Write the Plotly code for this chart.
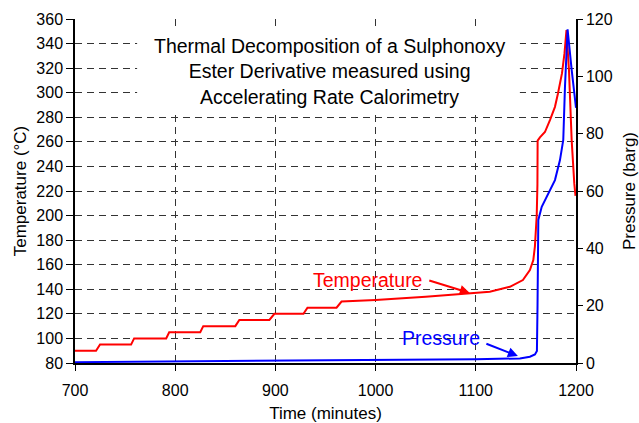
import plotly.graph_objects as go

# Temperature (°C) vs time (minutes)
temp_time = [700, 721, 725, 756, 759, 791, 794, 825, 828, 860, 864, 894, 899, 928, 932,
             961, 966, 1000, 1050, 1097, 1114, 1134, 1147, 1154, 1157.4, 1159, 1160.8,
             1161.5, 1161.7, 1164, 1169, 1174, 1179, 1182, 1186, 1188.5, 1190, 1190.5,
             1193, 1194.7, 1195.7, 1198.3, 1199.5]
temp_vals = [90, 90, 95, 95, 100, 100, 105, 105, 110, 110, 115, 115, 120, 120, 125,
             125, 130, 131.3, 134, 136.7, 138, 142, 147.5, 155.7, 163.8, 175, 200,
             225, 261, 263.6, 268, 277.7, 288.5, 299.4, 315.7, 332, 349.6, 351,
             318, 277.7, 261, 226, 216]

# Pressure (barg) vs time (minutes)
pres_time = [700, 800, 900, 1000, 1100, 1144, 1154, 1159, 1161, 1161.6, 1161.8, 1162.4,
             1165.8, 1172.4, 1179, 1184, 1187.3, 1189, 1191.6, 1195.7, 1199, 1200]
pres_vals = [0.3, 0.5, 0.7, 0.9, 1.3, 1.6, 2.2, 3.0, 4.2, 20, 46.4, 49.9,
             54.5, 59.2, 63.8, 70.8, 77.8, 96.4, 116.4, 102.2, 90.6, 89]

title_text = ("Thermal Decomposition of a Sulphonoxy<br>Ester Derivative measured using"
              "<br>Accelerating Rate Calorimetry")

FONT = "Liberation Sans, Arial, sans-serif"

fig = go.Figure()
fig.add_trace(go.Scatter(x=temp_time, y=temp_vals, mode="lines",
                         line=dict(color="#FF0000", width=2), yaxis="y",
                         showlegend=False, hoverinfo="skip"))
fig.add_trace(go.Scatter(x=pres_time, y=pres_vals, mode="lines",
                         line=dict(color="#0000FF", width=2), yaxis="y2",
                         showlegend=False, hoverinfo="skip"))

grid = dict(showgrid=True, gridcolor="#333333", gridwidth=1, griddash="7px,5px")

fig.update_layout(
    width=639, height=423,
    margin=dict(l=75, r=63, t=19, b=60),
    paper_bgcolor="white", plot_bgcolor="white",
    font=dict(family=FONT, size=16, color="black"),
    xaxis=dict(range=[700, 1200], tick0=700, dtick=100, showline=True, linecolor="black",
               linewidth=1.5, ticks="outside", ticklen=6, tickcolor="black",
               ticklabelstandoff=6,
               title=dict(text="Time (minutes)", font=dict(size=17), standoff=11),
               zeroline=False, automargin=False, **grid),
    yaxis=dict(range=[80, 360], tick0=80, dtick=20, showline=True, linecolor="black",
               linewidth=1.5, ticks="outside", ticklen=7, tickcolor="black",
               title=dict(text="Temperature (°C)", font=dict(size=17), standoff=5),
               zeroline=False, automargin=False, **grid),
    yaxis2=dict(range=[0, 120], tick0=0, dtick=20, overlaying="y", side="right",
                showline=True, linecolor="black", linewidth=1.5, ticks="outside",
                ticklen=5, tickcolor="black", showgrid=False, zeroline=False,
                automargin=False,
                title=dict(text="Pressure (barg)", font=dict(size=17), standoff=15)),
    shapes=[dict(type="rect", xref="paper", yref="paper", x0=0.124, x1=0.888,
                 y0=0.735, y1=0.977, fillcolor="white", line=dict(width=0),
                 layer="above")],
    annotations=[
        dict(text=title_text, xref="paper", yref="paper", x=0.507, y=0.847,
             xanchor="center", yanchor="middle",
             showarrow=False, font=dict(size=19.5, color="black"), align="center"),
        dict(text="Temperature", xref="x", yref="y", x=992, y=147.5, showarrow=False,
             xanchor="center", yanchor="middle",
             font=dict(size=19.5, color="#FF0000")),
        dict(text="", xref="x", yref="y", x=1094, y=137, ax=-42, ay=-13,
             showarrow=True, arrowhead=2, arrowsize=1, arrowwidth=2, arrowcolor="#FF0000"),
        dict(text="Pressure", xref="x", yref="y", x=1065, y=100.3, showarrow=False,
             xanchor="center", yanchor="middle",
             font=dict(size=19.5, color="#0000FF")),
        dict(text="", xref="x", yref="y2", x=1142, y=2.4, ax=-33, ay=-13,
             showarrow=True, arrowhead=2, arrowsize=1, arrowwidth=2, arrowcolor="#0000FF"),
    ],
)

fig.write_html("out.html", config={"displayModeBar": False},
               post_script="document.body.style.margin='0px';")
